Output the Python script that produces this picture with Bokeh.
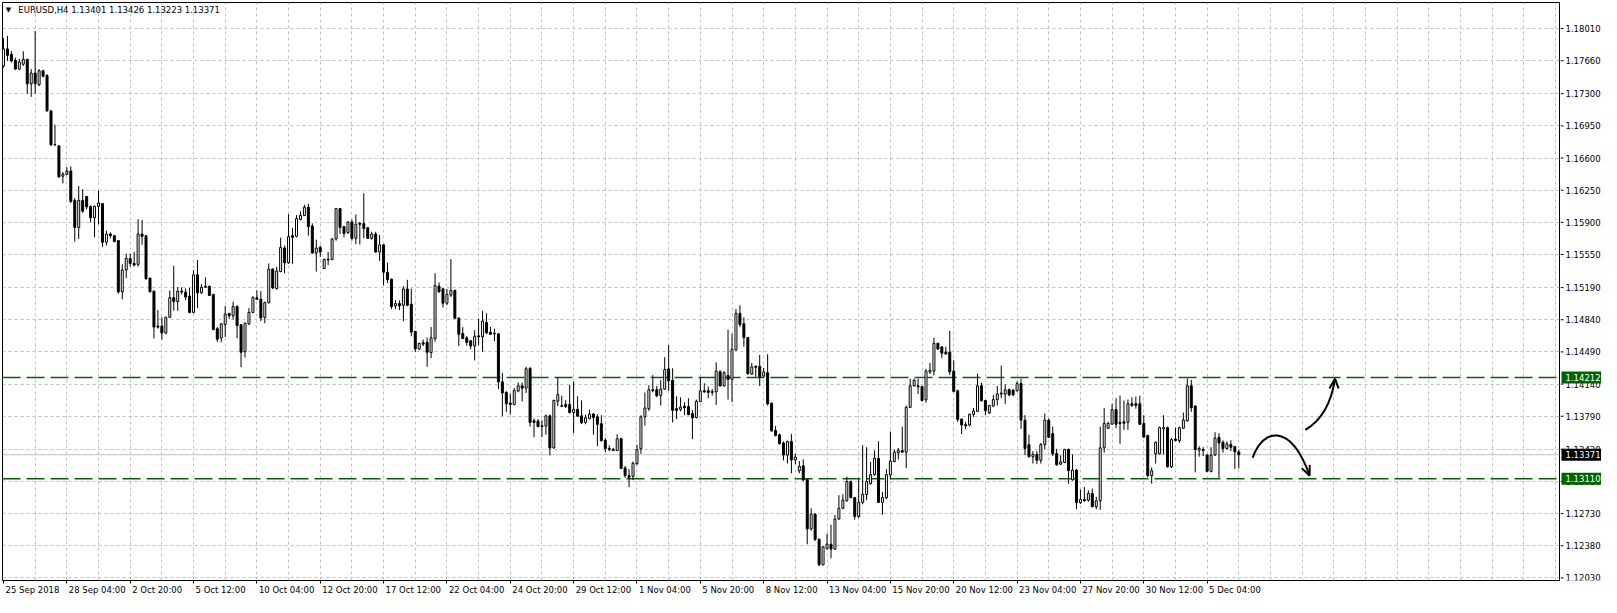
from bokeh.plotting import figure
from bokeh.layouts import row
from bokeh.models import ColumnDataSource, FixedTicker, Label, Range1d, Span
from bokeh.core.properties import value
from bokeh.embed import file_html
from bokeh.resources import INLINE

FONT = "DejaVu Sans"
FS = "8.5px"
GREEN = "#006400"

symbol = "EURUSD,H4"
header_values = ["1.13401", "1.13426", "1.13223", "1.13371"]

open_ = [
    1.17603, 1.17788, 1.17728, 1.17664, 1.17568, 1.17621, 1.17674, 1.17408, 1.17525, 1.17397,
    1.17550, 1.17497, 1.17113, 1.16747, 1.16733, 1.16402, 1.16423, 1.16459, 1.16139, 1.15844,
    1.16139, 1.16182, 1.16075, 1.15951, 1.16075, 1.16104, 1.15684, 1.15773, 1.15755, 1.15702,
    1.15144, 1.15382, 1.15507, 1.15453, 1.15443, 1.15773, 1.15755, 1.15293, 1.15151, 1.14771,
    1.14771, 1.14696, 1.14867, 1.15080, 1.15038, 1.15151, 1.15141, 1.15098, 1.14920, 1.15329,
    1.15134, 1.15205, 1.15204, 1.15115, 1.14742, 1.14642, 1.14788, 1.14909, 1.14884, 1.14984,
    1.14785, 1.14493, 1.14795, 1.14920, 1.15080, 1.15062, 1.14866, 1.15026, 1.15392, 1.15179,
    1.15364, 1.15620, 1.15460, 1.15755, 1.15748, 1.15932, 1.15975, 1.16064, 1.15861, 1.15566,
    1.15627, 1.15399, 1.15492, 1.15495, 1.15719, 1.16050, 1.15854, 1.15790, 1.15904, 1.15726,
    1.15890, 1.15886, 1.15840, 1.15726, 1.15773, 1.15577, 1.15655, 1.15357, 1.15282, 1.14991,
    1.15016, 1.14998, 1.15175, 1.15009, 1.14714, 1.14522, 1.14589, 1.14594, 1.14483, 1.14636,
    1.15205, 1.15176, 1.15020, 1.15109, 1.15159, 1.14857, 1.14690, 1.14643, 1.14611, 1.14555,
    1.14665, 1.14654, 1.14810, 1.14704, 1.14693, 1.14686, 1.14164, 1.14050, 1.13933, 1.13918,
    1.14064, 1.14121, 1.14096, 1.14309, 1.13741, 1.13737, 1.13687, 1.13684, 1.13794, 1.13446,
    1.13954, 1.13904, 1.13918, 1.13918, 1.13830, 1.13865, 1.13794, 1.13723, 1.13766, 1.13812,
    1.13783, 1.13709, 1.13528, 1.13439, 1.13428, 1.13417, 1.13545, 1.13225, 1.13143, 1.13136,
    1.13275, 1.13435, 1.13783, 1.13872, 1.14078, 1.14078, 1.14014, 1.14085, 1.14305, 1.14181,
    1.13872, 1.13865, 1.13900, 1.13896, 1.13818, 1.13776, 1.13950, 1.14067, 1.14067, 1.14049,
    1.14056, 1.14273, 1.14120, 1.14234, 1.14191, 1.14511, 1.14909, 1.14796, 1.14646, 1.14248,
    1.14334, 1.14334, 1.14227, 1.14263, 1.13932, 1.13634, 1.13587, 1.13499, 1.13367, 1.13516,
    1.13314, 1.13196, 1.13250, 1.13101, 1.12564, 1.12724, 1.12450, 1.12173, 1.12351, 1.12397,
    1.12344, 1.12671, 1.12788, 1.12870, 1.13079, 1.12905, 1.12699, 1.12852, 1.12937, 1.13055,
    1.13154, 1.13332, 1.12852, 1.12902, 1.13150, 1.13296, 1.13392, 1.13417, 1.13399, 1.13886,
    1.14121, 1.14121, 1.14114, 1.13968, 1.14270, 1.14281, 1.14583, 1.14544, 1.14487, 1.14487,
    1.14281, 1.14067, 1.13758, 1.13698, 1.13694, 1.13811, 1.13843, 1.14121, 1.13961, 1.13826,
    1.13900, 1.13971, 1.14032, 1.14032, 1.14078, 1.14074, 1.14067, 1.14145, 1.13747, 1.13480,
    1.13350, 1.13374, 1.13310, 1.13481, 1.13748, 1.13600, 1.13385, 1.13268, 1.13286, 1.13428,
    1.13098, 1.13204, 1.12849, 1.12884, 1.12877, 1.12948, 1.12806, 1.12870, 1.13446, 1.13659,
    1.13705, 1.13862, 1.13723, 1.13730, 1.13723, 1.13926, 1.13926, 1.13926, 1.13712, 1.13581,
    1.13144, 1.13382, 1.13382, 1.13652, 1.13666, 1.13240, 1.13542, 1.13524, 1.13659, 1.13741,
    1.14121, 1.13901, 1.13421, 1.13428, 1.13368, 1.13190, 1.13368, 1.13560, 1.13506, 1.13439,
    1.13481, 1.13460, 1.13401,
]

high = [
    1.17905, 1.17930, 1.17763, 1.17692, 1.17681, 1.17763, 1.17681, 1.17568, 1.17984, 1.17568,
    1.17561, 1.17514, 1.17124, 1.16964, 1.16733, 1.16448, 1.16502, 1.16509, 1.16164, 1.16296,
    1.16260, 1.16182, 1.16082, 1.16082, 1.16246, 1.16104, 1.15809, 1.15791, 1.15763, 1.15702,
    1.15443, 1.15560, 1.15560, 1.15578, 1.15933, 1.15926, 1.15763, 1.15301, 1.15158, 1.14945,
    1.14867, 1.14874, 1.15158, 1.15428, 1.15194, 1.15194, 1.15180, 1.15187, 1.15382, 1.15489,
    1.15229, 1.15301, 1.15211, 1.15122, 1.14760, 1.14802, 1.14991, 1.14916, 1.15037, 1.14998,
    1.14792, 1.14810, 1.14966, 1.15097, 1.15158, 1.15151, 1.15037, 1.15453, 1.15399, 1.15417,
    1.15733, 1.15648, 1.15989, 1.15840, 1.15979, 1.16021, 1.16092, 1.16103, 1.15890, 1.15712,
    1.15648, 1.15506, 1.15577, 1.15726, 1.16057, 1.16057, 1.15861, 1.15911, 1.15932, 1.15986,
    1.15904, 1.16217, 1.15851, 1.15797, 1.15797, 1.15762, 1.15662, 1.15463, 1.15289, 1.15055,
    1.15051, 1.15207, 1.15275, 1.15179, 1.14717, 1.14589, 1.14625, 1.14647, 1.14761, 1.15347,
    1.15247, 1.15184, 1.15176, 1.15500, 1.15169, 1.14867, 1.14761, 1.14661, 1.14618, 1.14725,
    1.14853, 1.14938, 1.14910, 1.14761, 1.14743, 1.14697, 1.14263, 1.14061, 1.14032, 1.14096,
    1.14157, 1.14157, 1.14327, 1.14327, 1.13766, 1.13759, 1.13748, 1.13808, 1.13808, 1.13972,
    1.14210, 1.14014, 1.13965, 1.14132, 1.14164, 1.14007, 1.13961, 1.13808, 1.13862, 1.13826,
    1.13812, 1.13801, 1.13552, 1.13474, 1.13446, 1.13595, 1.13556, 1.13250, 1.13214, 1.13296,
    1.13481, 1.13801, 1.14049, 1.14128, 1.14238, 1.14120, 1.14184, 1.14433, 1.14565, 1.14312,
    1.14007, 1.13996, 1.13943, 1.13985, 1.13857, 1.13971, 1.14216, 1.14149, 1.14113, 1.14085,
    1.14376, 1.14291, 1.14280, 1.14732, 1.14689, 1.14956, 1.14998, 1.14867, 1.14653, 1.14369,
    1.14341, 1.14458, 1.14316, 1.14465, 1.13939, 1.13683, 1.13602, 1.13516, 1.13523, 1.13598,
    1.13381, 1.13303, 1.13321, 1.13108, 1.12788, 1.12734, 1.12461, 1.12379, 1.12514, 1.12610,
    1.12717, 1.12930, 1.12941, 1.13133, 1.13090, 1.12912, 1.13108, 1.13474, 1.13453, 1.13293,
    1.13417, 1.13517, 1.12966, 1.13214, 1.13623, 1.13428, 1.13445, 1.13676, 1.13907, 1.14199,
    1.14199, 1.14199, 1.14121, 1.14305, 1.14369, 1.14643, 1.14590, 1.14554, 1.14547, 1.14718,
    1.14398, 1.14078, 1.13765, 1.13730, 1.13819, 1.13879, 1.14252, 1.14156, 1.13968, 1.13915,
    1.14021, 1.14121, 1.14341, 1.14138, 1.14092, 1.14085, 1.14170, 1.14199, 1.13801, 1.13588,
    1.13410, 1.13410, 1.13499, 1.13820, 1.13766, 1.13677, 1.13435, 1.13364, 1.13435, 1.13439,
    1.13375, 1.13215, 1.12991, 1.13019, 1.12984, 1.13002, 1.12913, 1.13677, 1.13879, 1.13730,
    1.13926, 1.13986, 1.14014, 1.13961, 1.13972, 1.13997, 1.14004, 1.14014, 1.13801, 1.13588,
    1.13233, 1.13517, 1.13677, 1.13801, 1.13677, 1.13552, 1.13666, 1.13677, 1.13830, 1.14199,
    1.14185, 1.13908, 1.13464, 1.13453, 1.13375, 1.13453, 1.13616, 1.13606, 1.13528, 1.13517,
    1.13528, 1.13464, 1.13426,
]

low = [
    1.17586, 1.17657, 1.17639, 1.17561, 1.17561, 1.17603, 1.17301, 1.17266, 1.17301, 1.17383,
    1.17479, 1.17106, 1.16733, 1.16733, 1.16388, 1.16324, 1.16413, 1.16111, 1.15691, 1.15720,
    1.16004, 1.16040, 1.15898, 1.15738, 1.15880, 1.15631, 1.15649, 1.15727, 1.15684, 1.15123,
    1.15062, 1.15293, 1.15418, 1.15418, 1.15418, 1.15656, 1.15276, 1.15141, 1.14636, 1.14743,
    1.14625, 1.14682, 1.14860, 1.14938, 1.14938, 1.15116, 1.15052, 1.14910, 1.14910, 1.14967,
    1.15123, 1.15187, 1.15097, 1.14724, 1.14600, 1.14593, 1.14653, 1.14849, 1.14842, 1.14639,
    1.14323, 1.14429, 1.14785, 1.14909, 1.15058, 1.14824, 1.14802, 1.15016, 1.15175, 1.15168,
    1.15357, 1.15346, 1.15449, 1.15449, 1.15737, 1.15922, 1.15968, 1.15755, 1.15559, 1.15364,
    1.15524, 1.15392, 1.15435, 1.15488, 1.15701, 1.15773, 1.15737, 1.15773, 1.15701, 1.15662,
    1.15659, 1.15726, 1.15719, 1.15712, 1.15570, 1.15481, 1.15215, 1.15239, 1.14955, 1.14955,
    1.14944, 1.14824, 1.14987, 1.14660, 1.14490, 1.14511, 1.14554, 1.14327, 1.14423, 1.14601,
    1.15134, 1.14974, 1.14999, 1.15088, 1.14849, 1.14555, 1.14629, 1.14558, 1.14519, 1.14398,
    1.14562, 1.14491, 1.14682, 1.14679, 1.14608, 1.14085, 1.13790, 1.13837, 1.13808, 1.13908,
    1.14050, 1.13950, 1.14043, 1.13677, 1.13560, 1.13670, 1.13563, 1.13588, 1.13364, 1.13435,
    1.13901, 1.13890, 1.13879, 1.13819, 1.13606, 1.13783, 1.13705, 1.13702, 1.13755, 1.13588,
    1.13464, 1.13517, 1.13400, 1.13410, 1.13410, 1.13410, 1.13215, 1.13119, 1.13019, 1.13097,
    1.13257, 1.13381, 1.13687, 1.13847, 1.14049, 1.13996, 1.13907, 1.14078, 1.14067, 1.13722,
    1.13758, 1.13843, 1.13801, 1.13801, 1.13541, 1.13765, 1.13943, 1.14042, 1.13985, 1.14014,
    1.13914, 1.14113, 1.14113, 1.13971, 1.13943, 1.14504, 1.14760, 1.14547, 1.14245, 1.14241,
    1.14220, 1.14120, 1.14220, 1.13907, 1.13623, 1.13570, 1.13481, 1.13310, 1.13275, 1.13168,
    1.13268, 1.13168, 1.13083, 1.12397, 1.12546, 1.12432, 1.12159, 1.12166, 1.12336, 1.12244,
    1.12336, 1.12663, 1.12777, 1.12859, 1.12895, 1.12664, 1.12681, 1.12831, 1.12877, 1.13047,
    1.13143, 1.12848, 1.12717, 1.12888, 1.13101, 1.13289, 1.13318, 1.13392, 1.13225, 1.13879,
    1.14110, 1.14032, 1.13950, 1.13936, 1.14249, 1.14234, 1.14512, 1.14423, 1.14458, 1.14238,
    1.14050, 1.13730, 1.13595, 1.13648, 1.13680, 1.13783, 1.13836, 1.13950, 1.13801, 1.13815,
    1.13893, 1.13907, 1.13986, 1.13925, 1.14007, 1.14007, 1.14057, 1.13652, 1.13367, 1.13339,
    1.13275, 1.13268, 1.13275, 1.13428, 1.13552, 1.13357, 1.13250, 1.13261, 1.13279, 1.13055,
    1.13090, 1.12778, 1.12835, 1.12859, 1.12859, 1.12799, 1.12778, 1.12771, 1.13393, 1.13652,
    1.13695, 1.13659, 1.13489, 1.13641, 1.13641, 1.13890, 1.13872, 1.13695, 1.13556, 1.13126,
    1.13055, 1.13275, 1.13375, 1.13375, 1.13233, 1.13225, 1.13517, 1.13499, 1.13652, 1.13730,
    1.13837, 1.13179, 1.13350, 1.13357, 1.13179, 1.13179, 1.13357, 1.13119, 1.13393, 1.13428,
    1.13410, 1.13215, 1.13223,
]

close = [
    1.17788, 1.17717, 1.17657, 1.17568, 1.17646, 1.17674, 1.17408, 1.17525, 1.17408, 1.17550,
    1.17490, 1.17113, 1.16743, 1.16743, 1.16395, 1.16423, 1.16459, 1.16129, 1.15844, 1.16139,
    1.16022, 1.16068, 1.15951, 1.16075, 1.16111, 1.15684, 1.15773, 1.15755, 1.15691, 1.15144,
    1.15382, 1.15507, 1.15453, 1.15436, 1.15773, 1.15748, 1.15286, 1.15144, 1.14760, 1.14760,
    1.14696, 1.14867, 1.15080, 1.15038, 1.15151, 1.15141, 1.15087, 1.14920, 1.15329, 1.15134,
    1.15194, 1.15194, 1.15104, 1.14735, 1.14628, 1.14795, 1.14902, 1.14884, 1.14984, 1.14778,
    1.14486, 1.14802, 1.14920, 1.15080, 1.15062, 1.14859, 1.15026, 1.15389, 1.15186, 1.15371,
    1.15627, 1.15460, 1.15744, 1.15737, 1.15940, 1.15975, 1.16064, 1.15854, 1.15566, 1.15620,
    1.15577, 1.15495, 1.15499, 1.15719, 1.16050, 1.15844, 1.15780, 1.15904, 1.15726, 1.15879,
    1.15879, 1.15833, 1.15726, 1.15773, 1.15577, 1.15655, 1.15357, 1.15275, 1.14984, 1.15016,
    1.14991, 1.15175, 1.14998, 1.14706, 1.14522, 1.14582, 1.14575, 1.14487, 1.14643, 1.15212,
    1.15144, 1.15020, 1.15116, 1.15159, 1.14857, 1.14682, 1.14636, 1.14594, 1.14555, 1.14661,
    1.14654, 1.14825, 1.14697, 1.14682, 1.14686, 1.14164, 1.14043, 1.13926, 1.13918, 1.14068,
    1.14121, 1.14096, 1.14306, 1.13723, 1.13723, 1.13677, 1.13677, 1.13794, 1.13446, 1.13961,
    1.14025, 1.13897, 1.13897, 1.13830, 1.13865, 1.13790, 1.13719, 1.13773, 1.13812, 1.13776,
    1.13702, 1.13524, 1.13439, 1.13428, 1.13417, 1.13545, 1.13222, 1.13144, 1.13125, 1.13278,
    1.13427, 1.13783, 1.13879, 1.14078, 1.14067, 1.14014, 1.14085, 1.14298, 1.14174, 1.13854,
    1.13854, 1.13889, 1.13882, 1.13808, 1.13772, 1.13953, 1.14067, 1.14056, 1.14049, 1.14060,
    1.14280, 1.14120, 1.14263, 1.14191, 1.14518, 1.14909, 1.14789, 1.14646, 1.14252, 1.14327,
    1.14323, 1.14220, 1.14273, 1.13925, 1.13630, 1.13580, 1.13491, 1.13367, 1.13516, 1.13314,
    1.13346, 1.13246, 1.13097, 1.12564, 1.12724, 1.12450, 1.12173, 1.12368, 1.12397, 1.12344,
    1.12671, 1.12788, 1.12877, 1.13079, 1.12905, 1.12699, 1.12852, 1.12941, 1.13079, 1.13154,
    1.13332, 1.12852, 1.12905, 1.13154, 1.13303, 1.13399, 1.13417, 1.13399, 1.13886, 1.14121,
    1.14181, 1.14110, 1.13961, 1.14281, 1.14288, 1.14583, 1.14522, 1.14476, 1.14469, 1.14273,
    1.14060, 1.13755, 1.13694, 1.13687, 1.13811, 1.13847, 1.14121, 1.13957, 1.13851, 1.13907,
    1.13971, 1.14032, 1.14042, 1.14078, 1.14021, 1.14025, 1.14145, 1.13747, 1.13440, 1.13350,
    1.13374, 1.13310, 1.13481, 1.13747, 1.13560, 1.13382, 1.13261, 1.13293, 1.13428, 1.13197,
    1.13204, 1.12849, 1.12884, 1.12870, 1.12948, 1.12806, 1.12870, 1.13446, 1.13712, 1.13712,
    1.13862, 1.13702, 1.13712, 1.13712, 1.13926, 1.13908, 1.13908, 1.13702, 1.13563, 1.13144,
    1.13197, 1.13506, 1.13666, 1.13666, 1.13240, 1.13535, 1.13524, 1.13666, 1.13748, 1.14121,
    1.13883, 1.13428, 1.13439, 1.13417, 1.13190, 1.13368, 1.13552, 1.13499, 1.13439, 1.13489,
    1.13453, 1.13403, 1.13371,
]

date_labels = [
    "25 Sep 2018", "28 Sep 04:00", "2 Oct 20:00", "5 Oct 12:00", "10 Oct 04:00",
    "12 Oct 20:00", "17 Oct 12:00", "22 Oct 04:00", "24 Oct 20:00", "29 Oct 12:00",
    "1 Nov 04:00", "5 Nov 20:00", "8 Nov 12:00", "13 Nov 04:00", "15 Nov 20:00",
    "20 Nov 12:00", "23 Nov 04:00", "27 Nov 20:00", "30 Nov 12:00", "5 Dec 04:00",
]
bars_per_label = 16
bars_per_grid = 8

price_ticks = [1.18010, 1.17660, 1.17300, 1.16950, 1.16600, 1.16250, 1.15900, 1.15550, 1.15190,
               1.14840, 1.14490, 1.14140, 1.13790, 1.13430, 1.13080, 1.12730, 1.12380, 1.12030]

level_prices = [1.14212, 1.13110]
bid_price = 1.13371

x_view = (-0.25, 393.0)
y_view = (1.12002, 1.18293)

# hand-drawn arrows (bar index, price)
arc_x = [315.5, 318.0, 325.0, 329.9]
arc_y = [1.13338, 1.13655, 1.13730, 1.13143]
arc_head_x = [327.9, 329.9]
arc_head_y = [1.13225, 1.13261]
up_x = [328.8, 334.9, 336.3]
up_y = [1.13641, 1.13795, 1.14199]
up_head_x = [334.9, 337.2]
up_head_y = [1.14092, 1.14092]

header_pos = (3.75, 1.18207)
marker_pos = (1.25, 1.18207)

# ---------------------------------------------------------------
TOTAL_W, TOTAL_H = 1601, 597
SCALE_W = 41
CHART_W = TOTAL_W - SCALE_W
TOP, BOTTOM, LEFT, RIGHT = 2, 16, 2, 1

n = len(open_)
assert len(high) == n and len(low) == n and len(close) == n
xs = list(range(n))
bull = [c >= o for o, c in zip(open_, close)]
src = ColumnDataSource(dict(
    x=xs, high=high, low=low,
    top=[max(o, c) for o, c in zip(open_, close)],
    bottom=[min(o, c) for o, c in zip(open_, close)],
    fill=["white" if b else "black" for b in bull],
))

chart = figure(width=CHART_W, height=TOTAL_H, output_backend="svg", toolbar_location=None,
               x_range=Range1d(*x_view), y_range=Range1d(*y_view),
               y_axis_location=None,
               min_border_left=LEFT, min_border_top=TOP, min_border_right=RIGHT,
               min_border_bottom=BOTTOM)
chart.background_fill_color = "white"
chart.border_fill_color = "white"
chart.outline_line_color = "black"
chart.outline_line_width = 1
chart.outline_line_alpha = 1.0

# grid
chart.xgrid.ticker = FixedTicker(ticks=list(range(bars_per_grid, int(x_view[1]) + 1, bars_per_grid)))
chart.ygrid.ticker = FixedTicker(ticks=price_ticks)
for g in (chart.xgrid, chart.ygrid):
    g.grid_line_color = "#C0C0C0"
    g.grid_line_dash = "3 3"
    g.grid_line_width = 1

# time axis: small tick at each label start, text placed just right of it
frame_w = CHART_W - LEFT - RIGHT
px_per_bar = frame_w / (x_view[1] - x_view[0])
em = {" ": 0.318, ":": 0.337, "S": 0.635, "e": 0.615, "p": 0.635, "O": 0.787, "c": 0.55,
      "t": 0.392, "N": 0.748, "o": 0.612, "v": 0.592, "D": 0.770}
fs_px = float(FS.replace("px", ""))


def text_px(s):
    return sum(em.get(ch, 0.636) for ch in s) * fs_px


label_bars = [i * bars_per_label for i in range(len(date_labels))]
label_pos = [round(b + (2.0 + text_px(s) / 2.0) / px_per_bar, 3) for b, s in zip(label_bars, date_labels)]
xax = chart.xaxis[0]
xax.ticker = FixedTicker(ticks=label_pos, minor_ticks=label_bars)
xax.major_label_overrides = {t: s for t, s in zip(label_pos, date_labels)}
xax.axis_line_color = None
xax.major_tick_line_color = None
xax.minor_tick_line_color = "black"
xax.minor_tick_out = 3
xax.minor_tick_in = 0
xax.major_tick_out = 3
xax.major_tick_in = 0
xax.major_label_standoff = 1
xax.major_label_text_font = FONT
xax.major_label_text_font_size = FS
xax.major_label_text_color = "black"

# horizontal levels
for lv in level_prices:
    chart.add_layout(Span(location=lv, dimension="width", line_color=GREEN,
                          line_dash="18 6", line_width=1.5, level="underlay"))
chart.add_layout(Span(location=bid_price, dimension="width", line_color="#C0C0C0",
                      line_width=1, level="underlay"))

# candles
chart.segment(x0="x", y0="low", x1="x", y1="high", source=src, line_color="black", line_width=1)
chart.vbar(x="x", top="top", bottom="bottom", width=0.5, source=src,
           fill_color="fill", line_color="black", line_width=1)

# drawn arrows
chart.bezier(x0=[arc_x[0]], y0=[arc_y[0]], cx0=[arc_x[1]], cy0=[arc_y[1]],
             cx1=[arc_x[2]], cy1=[arc_y[2]], x1=[arc_x[3]], y1=[arc_y[3]],
             line_color="black", line_width=2)
chart.segment(x0=[arc_x[3]] * 2, y0=[arc_y[3]] * 2, x1=arc_head_x, y1=arc_head_y,
              line_color="black", line_width=2)
chart.quadratic(x0=[up_x[0]], y0=[up_y[0]], cx=[up_x[1]], cy=[up_y[1]],
                x1=[up_x[2]], y1=[up_y[2]], line_color="black", line_width=2)
chart.segment(x0=[up_x[2]] * 2, y0=[up_y[2]] * 2, x1=up_head_x, y1=up_head_y,
              line_color="black", line_width=2)

# header
chart.add_layout(Label(x=marker_pos[0], y=marker_pos[1], text="\u25BC", text_align="center",
                       text_baseline="middle", text_font=FONT, text_font_size="7px",
                       text_color="black"))
chart.add_layout(Label(x=header_pos[0], y=header_pos[1],
                       text=symbol + "  " + " ".join(header_values),
                       text_align="left", text_baseline="middle",
                       text_font=FONT, text_font_size=FS, text_color="black"))

# ---------------------------------------------------------------
# price scale column (shares the chart's price range)
scale = figure(width=SCALE_W, height=TOTAL_H, output_backend="svg", toolbar_location=None,
               x_range=Range1d(0, SCALE_W), y_range=chart.y_range,
               x_axis_location=None, y_axis_location=None,
               min_border_left=0, min_border_right=0, min_border_top=TOP,
               min_border_bottom=BOTTOM)
scale.background_fill_color = "white"
scale.border_fill_color = "white"
scale.outline_line_color = None
scale.xgrid.visible = False
scale.ygrid.visible = False

k = len(price_ticks)
scale.segment(x0=[0] * k, y0=price_ticks, x1=[3] * k, y1=price_ticks,
              line_color="black", line_width=1)
scale.text(x=[5] * k, y=price_ticks, text=[f"{t:.5f}" for t in price_ticks],
           text_font=value(FONT), text_font_size=FS, text_color="black",
           text_align="left", text_baseline="middle")

tag_prices = [level_prices[0], bid_price, level_prices[1]]
tag_colors = [GREEN, "black", GREEN]
scale.rect(x=[(1 + SCALE_W) / 2] * 3, y=tag_prices, width=[SCALE_W - 1] * 3, height=12,
           height_units="screen", fill_color=tag_colors, line_color=None)
scale.text(x=[5] * 3, y=tag_prices, text=[f"{t:.5f}" for t in tag_prices],
           text_font=value(FONT), text_font_size=FS, text_color="white",
           text_align="left", text_baseline="middle")

p = row(chart, scale, spacing=0)
open("out.html", "w").write(file_html(p, INLINE))
